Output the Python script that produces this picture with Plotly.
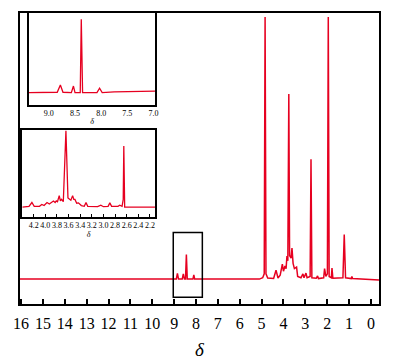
import plotly.graph_objects as go

RED = "#e60020"
SERIF = "Liberation Serif, Times New Roman, serif"

# ---- main spectrum (chemical shift in ppm, relative intensity) ----
main_shift = [16.05, 9.0, 8.9, 8.85, 8.8, 8.63, 8.58, 8.53, 8.48, 8.44, 8.40,
              8.14, 8.10, 8.06, 5.1, 4.95, 4.88, 4.84, 4.80, 4.72, 4.45, 4.34,
              4.25, 4.15, 4.05, 4.0, 3.93, 3.88, 3.84, 3.80, 3.755, 3.72, 3.65,
              3.61, 3.56, 3.5, 3.40, 3.35, 3.2, 3.11, 3.06, 2.97, 2.92, 2.78,
              2.74, 2.70, 2.5, 2.44, 2.40, 2.16, 2.12, 2.06, 1.99, 1.95, 1.91,
              1.81, 1.78, 1.74, 1.28, 1.22, 1.16, 0.9, 0.87, 0.84, -0.37]
main_int = [0.0, 0.0, 0.0, 0.022, 0.0, 0.0, 0.02, 0.0, 0.0, 0.094, 0.0,
            0.0, 0.016, 0.0, 0.0, 0.005, 0.02, 1.0, 0.02, 0.004, 0.002, 0.034,
            0.004, 0.015, 0.057, 0.03, 0.05, 0.04, 0.088, 0.07, 0.706, 0.09, 0.08,
            0.118, 0.06, 0.04, 0.046, 0.01, 0.005, 0.02, 0.005, 0.023, 0.005, 0.01,
            0.457, 0.005, 0.003, 0.012, 0.002, 0.005, 0.04, 0.01, 0.02, 1.0, 0.01,
            0.005, 0.042, 0.003, 0.005, 0.17, 0.005, 0.002, 0.01, 0.002, -0.003]

# ---- inset 1: aromatic region ----
ins1_shift = [9.38, 8.84, 8.78, 8.73, 8.57, 8.53, 8.50, 8.40, 8.38, 8.355,
              8.08, 8.03, 7.98, 7.75, 6.97]
ins1_int = [0.0, 0.005, 0.105, 0.005, 0.0, 0.09, 0.0, 0.0, 1.0, 0.0,
            0.0, 0.06, 0.0, 0.01, 0.02]

# ---- inset 2: aliphatic region ----
ins2_shift = [4.395, 4.28, 4.23, 4.19, 4.1, 4.06, 4.02, 3.97, 3.93, 3.86, 3.83,
              3.81, 3.79, 3.76, 3.74, 3.72, 3.69, 3.645, 3.61, 3.59, 3.56, 3.53,
              3.51, 3.49, 3.46, 3.43, 3.38, 3.33, 3.30, 3.27, 3.1, 3.045, 3.0,
              2.92, 2.89, 2.86, 2.75, 2.72, 2.68, 2.66, 2.65, 2.635, 2.114]
ins2_int = [0.0, 0.01, 0.06, 0.01, 0.01, 0.035, 0.02, 0.06, 0.04, 0.08, 0.06,
            0.08, 0.07, 0.15, 0.08, 0.1, 0.07, 1.0, 0.12, 0.105, 0.09, 0.15,
            0.1, 0.1, 0.05, 0.055, 0.02, 0.01, 0.06, 0.01, 0.005, 0.025, 0.005,
            0.01, 0.055, 0.01, 0.01, 0.025, 0.01, 0.1, 0.8, 0.0, 0.0]

main_ticks = list(range(16, -1, -1))
ins1_ticks = [9.0, 8.5, 8.0, 7.5, 7.0]
ins2_ticks = [4.2, 4.0, 3.8, 3.6, 3.4, 3.2, 3.0, 2.8, 2.6, 2.4, 2.2]

# highlighted region in main plot
box_x = [9.04, 7.71]
box_y = [-0.069, 0.178]

fig = go.Figure()
fig.add_trace(go.Scatter(x=main_shift, y=main_int, mode="lines",
                         line=dict(color=RED, width=1.5), xaxis="x", yaxis="y",
                         showlegend=False, hoverinfo="skip"))
fig.add_trace(go.Scatter(x=ins1_shift, y=ins1_int, mode="lines",
                         line=dict(color=RED, width=1.3), xaxis="x2", yaxis="y2",
                         showlegend=False, hoverinfo="skip"))
fig.add_trace(go.Scatter(x=ins2_shift, y=ins2_int, mode="lines",
                         line=dict(color=RED, width=1.3), xaxis="x3", yaxis="y3",
                         showlegend=False, hoverinfo="skip"))

fig.add_shape(type="rect", xref="x", yref="y", x0=box_x[0], x1=box_x[1],
              y0=box_y[0], y1=box_y[1], line=dict(color="black", width=1.5))

common_y = dict(showticklabels=False, showgrid=False, zeroline=False,
                showline=True, linecolor="black", mirror=True, ticks="",
                automargin=False)

# page body has an 8px default margin, so the figure is sized to fill the
# remaining window exactly
fig.update_layout(
    template="none",
    width=392, height=353,
    margin=dict(l=12, r=21, t=5, b=57, autoexpand=False),
    paper_bgcolor="white", plot_bgcolor="white",
    showlegend=False,
    xaxis=dict(domain=[0, 1], anchor="y", range=[16.05, -0.37],
               tickvals=main_ticks, ticktext=[str(t) for t in main_ticks],
               ticks="inside", ticklen=5, tickwidth=1.5, tickcolor="black",
               showline=True, linewidth=2, linecolor="black", mirror=True,
               showgrid=False, zeroline=False, ticklabelstandoff=4,
               automargin=False, tickangle=0,
               tickfont=dict(family=SERIF, size=16, color="black"),
               title=dict(text="<i>δ</i>", standoff=11,
                          font=dict(family=SERIF, size=19, color="black"))),
    yaxis=dict(domain=[0, 1], anchor="x", range=[-0.095, 1.015],
               linewidth=2, **common_y),
    xaxis2=dict(domain=[0.0251, 0.376], anchor="y2", range=[9.38, 6.97],
                tickvals=ins1_ticks, ticktext=["%.1f" % t for t in ins1_ticks],
                ticks="", showline=True, linewidth=1.5, linecolor="black",
                mirror=True, showgrid=False, zeroline=False,
                automargin=False, tickangle=0,
                tickfont=dict(family=SERIF, size=8, color="black"),
                title=dict(text="<i>δ</i>", standoff=1,
                           font=dict(family=SERIF, size=8, color="black"))),
    yaxis2=dict(domain=[0.684, 1.0], anchor="x2", range=[-0.168, 1.086],
                linewidth=1.5, **common_y),
    xaxis3=dict(domain=[0.0064, 0.376], anchor="y3", range=[4.395, 2.114],
                tickvals=ins2_ticks, ticktext=["%.1f" % t for t in ins2_ticks],
                ticks="inside", ticklen=3, tickwidth=1, tickcolor="black",
                showline=True, linewidth=1.5, linecolor="black",
                mirror=True, showgrid=False, zeroline=False,
                automargin=False, tickangle=0,
                tickfont=dict(family=SERIF, size=8, color="black"),
                title=dict(text="<i>δ</i>", standoff=1,
                           font=dict(family=SERIF, size=8, color="black"))),
    yaxis3=dict(domain=[0.299, 0.598], anchor="x3", range=[-0.13, 1.01],
                linewidth=1.5, **common_y),
)

fig.write_html("out.html")
